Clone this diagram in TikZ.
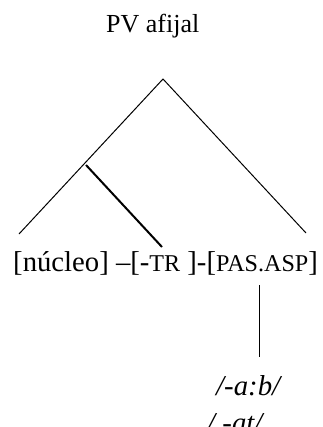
\documentclass[tikz,border=0pt]{standalone}
\usepackage{fontspec}
\setmainfont{Liberation Serif}
\newcommand{\fsc}[1]{{\fontsize{24.1}{28}\selectfont #1}}
\begin{document}
\begin{tikzpicture}[x=1pt,y=-1pt,
  lbl/.style={inner sep=0pt,anchor=base west,font=\fontsize{26}{30}\selectfont},
  biglbl/.style={inner sep=0pt,anchor=base west,font=\fontsize{28.7}{33}\selectfont},
  branch/.style={line width=1pt},
  thick branch/.style={line width=2pt}]
\useasboundingbox (0,0) rectangle (322,427);
\clip (0,0) rectangle (322,427);
\node[lbl] (root) at (106,33) {PV afijal};
\coordinate (apex) at (163,79);
\coordinate (lend) at (19,234);
\coordinate (rend) at (306,233);
\coordinate (mid) at (86,165);
\coordinate (tr) at (162,247);
\node[biglbl] (line) at (13,271) {[núcleo] –[-\fsc{TR} ]-[\fsc{PAS.ASP}]};
\coordinate (vtop) at (259,285);
\coordinate (vbot) at (259,357);
\node[biglbl,font=\fontsize{28.8}{33}\selectfont\itshape] (f1) at (216,395) {/-a:b/};
\node[biglbl,font=\fontsize{28.8}{33}\selectfont\itshape] (f2) at (207,432) {/ -at/};
\draw[branch] (lend) -- (apex) -- (rend);
\draw[thick branch] (mid) -- (tr);
\draw[branch] (vtop) -- (vbot);
\end{tikzpicture}
\end{document}
